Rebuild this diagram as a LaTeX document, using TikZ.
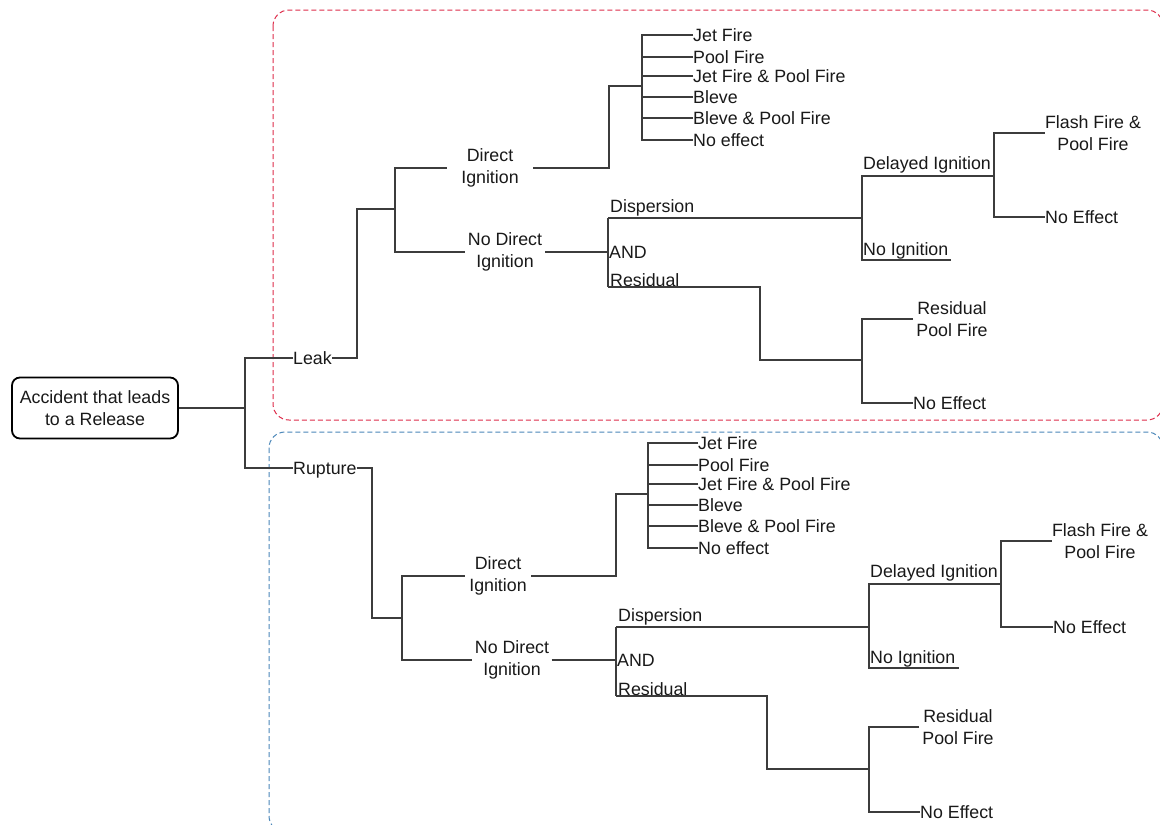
\documentclass[tikz,border=0pt]{standalone}
\usepackage{fontspec}
\setmainfont{Liberation Sans}
\definecolor{linec}{RGB}{60,60,60}
\definecolor{txtc}{RGB}{25,25,25}
\definecolor{redbox}{RGB}{222,45,75}
\definecolor{bluebox}{RGB}{75,135,185}
\newcommand\fs{\fontsize{17.8}{21.5}\selectfont}
\tikzset{
  conn/.style={draw=linec, line width=1.5pt},
  lbl/.style={inner sep=0pt, text height=12pt, text depth=0pt, anchor=west, font=\fs, text=txtc},
  over/.style={inner sep=0pt, anchor=base west, font=\fs, text=txtc},
  two/.style={align=center, inner sep=0pt, font=\fs, text=txtc},
  region/.style={dashed, dash pattern=on 5pt off 3pt, line width=1pt, rounded corners=16pt},
}
\begin{document}
\begin{tikzpicture}[x=1pt, y=-1pt]
\useasboundingbox[fill=white] (0,0) rectangle (1160,825);
% regions
\draw[region, draw=redbox] (273,10) rectangle (1163,420);
\draw[region, draw=bluebox] (269,432) rectangle (1163,832);

% root
\node[draw=black, rounded corners=8pt, line width=1.8pt, minimum width=166pt, minimum height=61pt,
      align=center, font=\fs, text=txtc, inner sep=0pt] (root) at (95,408) {Accident that leads\\to a Release};
\coordinate (trunk) at (245,408);
\node[lbl] (tleak) at (293,358) {Leak};
\node[lbl] (brup) at (293,468) {Rupture};
\draw[conn] (root.east) -- (trunk);
\draw[conn] (tleak.west) -| (trunk) |- (brup.west);

% ================= TOP (Leak) =================
\coordinate (tl1) at (357,209);
\coordinate (tf1) at (395,209);
\node[two, minimum width=86pt] (tdi) at (490,168) {Direct\\Ignition};
\node[two, minimum width=80pt] (tndi) at (505,252) {No Direct\\Ignition};
\draw[conn] (tleak.east) -| (tl1) -- (tf1);
\draw[conn] (tdi.west) -| (tf1) |- (tndi.west);

% direct ignition outcomes
\coordinate (tg1) at (609,86);
\coordinate (tf2) at (642,86);
\draw[conn] (tdi.east) -| (tg1) -- (tf2);
\node[lbl] (tj1) at (693,35) {Jet Fire};
\node[lbl] (tj2) at (693,57) {Pool Fire};
\node[lbl] (tj3) at (693,76) {Jet Fire \& Pool Fire};
\node[lbl] (tj4) at (693,97) {Bleve};
\node[lbl] (tj5) at (693,118) {Bleve \& Pool Fire};
\node[lbl] (tj6) at (693,140) {No effect};
\draw[conn] (tj1.west) -| (tf2) |- (tj6.west);
\draw[conn] (tj2.west) -- (tj2.west -| tf2);
\draw[conn] (tj3.west) -- (tj3.west -| tf2);
\draw[conn] (tj4.west) -- (tj4.west -| tf2);
\draw[conn] (tj5.west) -- (tj5.west -| tf2);

% no direct ignition
\node[lbl] (tand) at (609,252) {AND};
\coordinate (tdisp) at (608,218);
\coordinate (tres) at (608,287);
\draw[conn] (tndi.east) -- (tand.west);
\draw[conn] (tdisp) -- (tres);
\node[over] (tdispl) at (610,212) {Dispersion};
\node[over] (tresl) at (610,286) {Residual};

% dispersion branch
\coordinate (tdf) at (862,218);
\coordinate (tdel) at (862,176);
\coordinate (tnoi) at (862,260);
\coordinate (tnoie) at (951,260);
\coordinate (tff) at (994,176);
\node[over] (tdell) at (863,169) {Delayed Ignition};
\node[over] (tnoil) at (863,255) {No Ignition};
\draw[conn] (tdisp) -- (tdf);
\draw[conn] (tff) -- (tdel) -- (tnoi) -- (tnoie);
\node[two] (tflash) at (1093,133) {Flash Fire \&\\Pool Fire};
\node[lbl] (tne1) at (1045,217) {No Effect};
\draw[conn] (tflash.west) -| (tff) |- (tne1.west);

% residual branch
\coordinate (tr1) at (760,287);
\coordinate (tr2) at (760,360);
\coordinate (trf) at (862,360);
\draw[conn] (tres) -- (tr1) -- (tr2) -- (trf);
\node[two, inner xsep=3pt] (trpf) at (952,319) {Residual\\Pool Fire};
\node[lbl] (tne2) at (913,403) {No Effect};
\draw[conn] (trpf.west) -| (trf) |- (tne2.west);

% ================= BOTTOM (Rupture) =================
\coordinate (bl1) at (372,618);
\coordinate (bf1) at (402,618);
\node[two, minimum width=66pt] (bdi) at (498,576) {Direct\\Ignition};
\node[two, minimum width=79pt] (bndi) at (512,660) {No Direct\\Ignition};
\draw[conn] (brup.east) -| (bl1) -- (bf1);
\draw[conn] (bdi.west) -| (bf1) |- (bndi.west);

\coordinate (bg1) at (616,494);
\coordinate (bf2) at (648,494);
\draw[conn] (bdi.east) -| (bg1) -- (bf2);
\node[lbl] (bj1) at (698,443) {Jet Fire};
\node[lbl] (bj2) at (698,465) {Pool Fire};
\node[lbl] (bj3) at (698,484) {Jet Fire \& Pool Fire};
\node[lbl] (bj4) at (698,505) {Bleve};
\node[lbl] (bj5) at (698,526) {Bleve \& Pool Fire};
\node[lbl] (bj6) at (698,548) {No effect};
\draw[conn] (bj1.west) -| (bf2) |- (bj6.west);
\draw[conn] (bj2.west) -- (bj2.west -| bf2);
\draw[conn] (bj3.west) -- (bj3.west -| bf2);
\draw[conn] (bj4.west) -- (bj4.west -| bf2);
\draw[conn] (bj5.west) -- (bj5.west -| bf2);

\node[lbl] (band) at (617,660) {AND};
\coordinate (bdisp) at (616,627);
\coordinate (bres) at (616,696);
\draw[conn] (bndi.east) -- (band.west);
\draw[conn] (bdisp) -- (bres);
\node[over] (bdispl) at (618,621) {Dispersion};
\node[over] (bresl) at (618,695) {Residual};

\coordinate (bdf) at (869,627);
\coordinate (bdel) at (869,584);
\coordinate (bnoi) at (869,668);
\coordinate (bnoie) at (959,668);
\coordinate (bff) at (1001,584);
\node[over] (bdell) at (870,577) {Delayed Ignition};
\node[over] (bnoil) at (870,663) {No Ignition};
\draw[conn] (bdisp) -- (bdf);
\draw[conn] (bff) -- (bdel) -- (bnoi) -- (bnoie);
\node[two] (bflash) at (1100,541) {Flash Fire \&\\Pool Fire};
\node[lbl] (bne1) at (1053,627) {No Effect};
\draw[conn] (bflash.west) -| (bff) |- (bne1.west);

\coordinate (br1) at (767,696);
\coordinate (br2) at (767,769);
\coordinate (brf) at (869,769);
\draw[conn] (bres) -- (br1) -- (br2) -- (brf);
\node[two, inner xsep=3pt] (brpf) at (958,727) {Residual\\Pool Fire};
\node[lbl] (bne2) at (920,812) {No Effect};
\draw[conn] (brpf.west) -| (brf) |- (bne2.west);
\end{tikzpicture}
\end{document}
